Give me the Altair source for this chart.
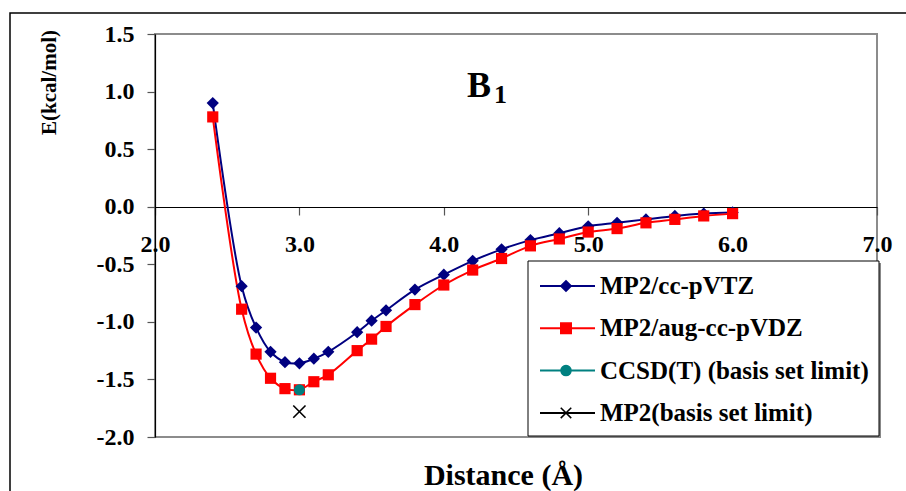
import altair as alt
import pandas as pd

# Intermolecular distance grid (Å) and interaction energies (kcal/mol)
distance = [2.4, 2.6, 2.7, 2.8, 2.9, 3.0, 3.1, 3.2, 3.4, 3.5, 3.6, 3.8,
            4.0, 4.2, 4.4, 4.6, 4.8, 5.0, 5.2, 5.4, 5.6, 5.8, 6.0]
e_mp2_vtz = [0.90, -0.69, -1.05, -1.26, -1.35, -1.36, -1.32, -1.26, -1.09, -0.99, -0.90, -0.72,
             -0.59, -0.47, -0.37, -0.29, -0.23, -0.17, -0.14, -0.11, -0.08, -0.06, -0.05]
e_mp2_avdz = [0.78, -0.89, -1.28, -1.49, -1.58, -1.59, -1.52, -1.46, -1.25, -1.15, -1.04, -0.85,
              -0.68, -0.55, -0.45, -0.34, -0.28, -0.22, -0.19, -0.14, -0.11, -0.08, -0.06]
cbs_distance = [3.0]
e_ccsdt_cbs = [-1.59]
e_mp2_cbs = [-1.78]

series_names = ["MP2/cc-pVTZ", "MP2/aug-cc-pVDZ",
                "CCSD(T) (basis set limit)", "MP2(basis set limit)"]
series_colors = ["#000080", "#FF0000", "#008080", "#000000"]
x_ticks = [2.0, 3.0, 4.0, 5.0, 6.0, 7.0]
y_ticks = [-2.0, -1.5, -1.0, -0.5, 0.0, 0.5, 1.0, 1.5]

FONT = "Liberation Serif"
X_MARK = "M-1,-1L1,1M-1,1L1,-1"

W, H = 722, 403

curves = pd.DataFrame({
    "d": distance * 2,
    "e": e_mp2_vtz + e_mp2_avdz,
    "series": [series_names[0]] * len(distance) + [series_names[1]] * len(distance),
})
ccsdt = pd.DataFrame({"d": cbs_distance, "e": e_ccsdt_cbs})
mp2cbs = pd.DataFrame({"d": cbs_distance, "e": e_mp2_cbs})

fmt = "datum.value < 0 ? '-' + format(-datum.value, '.1f') : format(datum.value, '.1f')"

x_enc = alt.X("d:Q", scale=alt.Scale(domain=[2, 7], nice=False),
              axis=alt.Axis(values=x_ticks, labelExpr=fmt, offset=-230,
                            title="Distance (Å)", titleFontSize=30, titleFontWeight="bold",
                            titleX=348, titleY=277, titleAnchor=None, titleAlign="center",
                            titleBaseline="alphabetic",
                            labelFontSize=24, labelFontWeight="bold", labelPadding=17,
                            tickSize=8, labelFlush=False, labelOverlap=False))
y_enc = alt.Y("e:Q", scale=alt.Scale(domain=[-2, 1.5], nice=False),
              axis=alt.Axis(values=y_ticks, labelExpr=fmt,
                            title="E(kcal/mol)", titleFontSize=21, titleFontWeight="bold",
                            titleAngle=270, titleX=-106, titleY=48, titleAlign="center",
                            titleBaseline="middle",
                            labelFontSize=24, labelFontWeight="bold", labelPadding=13,
                            tickSize=8, labelFlush=False))

color_scale = alt.Scale(domain=series_names[:2], range=series_colors[:2])

lines = alt.Chart(curves).mark_line(interpolate="catmull-rom", strokeWidth=2).encode(
    x=x_enc, y=y_enc,
    color=alt.Color("series:N", scale=color_scale, legend=None),
    detail="series:N",
)
vtz_pts = alt.Chart(curves).transform_filter(
    alt.datum.series == series_names[0]
).mark_point(shape="diamond", filled=True, size=150, opacity=1, color=series_colors[0]).encode(
    x="d:Q", y="e:Q")
avdz_pts = alt.Chart(curves).transform_filter(
    alt.datum.series == series_names[1]
).mark_point(shape="square", filled=True, size=125, opacity=1, color=series_colors[1]).encode(
    x="d:Q", y="e:Q")
ccsdt_pt = alt.Chart(ccsdt).mark_point(shape="circle", filled=True, size=121, opacity=1,
                                       color=series_colors[2]).encode(x="d:Q", y="e:Q")
mp2cbs_pt = alt.Chart(mp2cbs).mark_point(shape=X_MARK, filled=False, size=150, opacity=1,
                                         strokeWidth=1.6, color=series_colors[3]).encode(
    x="d:Q", y="e:Q")

# Figure frame around the whole chart
frame = alt.Chart(pd.DataFrame({"k": [0]})).mark_rect(
    fill=None, stroke="black", strokeWidth=1.5, clip=False).encode(
    x=alt.value(-145), x2=alt.value(800), y=alt.value(-21), y2=alt.value(500))

# Panel label B with subscript 1
label_b = alt.Chart(pd.DataFrame({"t": ["B"]})).mark_text(
    font=FONT, fontSize=36, fontWeight="bold", align="center", baseline="alphabetic").encode(
    text="t:N", x=alt.value(324), y=alt.value(63))
label_sub = alt.Chart(pd.DataFrame({"t": ["1"]})).mark_text(
    font=FONT, fontSize=26, fontWeight="bold", align="left", baseline="alphabetic").encode(
    text="t:N", x=alt.value(339), y=alt.value(69))

# Legend box with shadow
legend_shadow = alt.Chart(pd.DataFrame({"k": [0]})).mark_rect(
    fill="#888888", clip=False).encode(
    x=alt.value(375), x2=alt.value(726), y=alt.value(229), y2=alt.value(404))
legend_box = alt.Chart(pd.DataFrame({"k": [0]})).mark_rect(
    fill="white", stroke="black", strokeWidth=1, clip=False).encode(
    x=alt.value(373), x2=alt.value(724), y=alt.value(227), y2=alt.value(402))

legend_df = pd.DataFrame({
    "label": series_names,
    "color": series_colors,
    "shape": ["diamond", "square", "circle", X_MARK],
    "size": [110, 110, 100, 110],
    "row": [0, 1, 2, 3],
})
legend_base = alt.Chart(legend_df).transform_calculate(
    ly="252 + datum.row * 42.3")
legend_lines = legend_base.mark_rule(strokeWidth=2).encode(
    x=alt.value(385), x2=alt.value(440),
    y=alt.Y("ly:Q", scale=None),
    color=alt.Color("color:N", scale=None))
legend_marks = legend_base.mark_point(filled=True, opacity=1, strokeWidth=1.5).encode(
    x=alt.value(411),
    y=alt.Y("ly:Q", scale=None),
    shape=alt.Shape("shape:N", scale=None),
    size=alt.Size("size:Q", scale=None),
    fill=alt.condition(alt.datum.row == 3, alt.value(None), alt.Fill("color:N", scale=None)),
    stroke=alt.Stroke("color:N", scale=None))
legend_text = legend_base.mark_text(
    font=FONT, fontSize=25, fontWeight="bold", align="left", baseline="middle").encode(
    x=alt.value(445),
    y=alt.Y("ly:Q", scale=None),
    text="label:N")

chart = alt.layer(
    frame, lines, vtz_pts, avdz_pts, ccsdt_pt, mp2cbs_pt,
    label_b, label_sub,
    legend_shadow, legend_box, legend_lines, legend_marks, legend_text,
).properties(
    width=W, height=H,
    padding={"left": 155, "top": 34, "right": 29, "bottom": 54},
    autosize=alt.AutoSizeParams(type="none"),
    background="white",
).configure_view(
    stroke="#8c8c8c", strokeWidth=2,
).configure_axis(
    grid=False, labelFont=FONT, titleFont=FONT, labelColor="black", titleColor="black",
    domainColor="black", domainWidth=1.2, tickColor="#555555", tickWidth=1.2,
).configure_text(font=FONT)

chart.save("out.html", embed_options={"renderer": "svg", "actions": False})
